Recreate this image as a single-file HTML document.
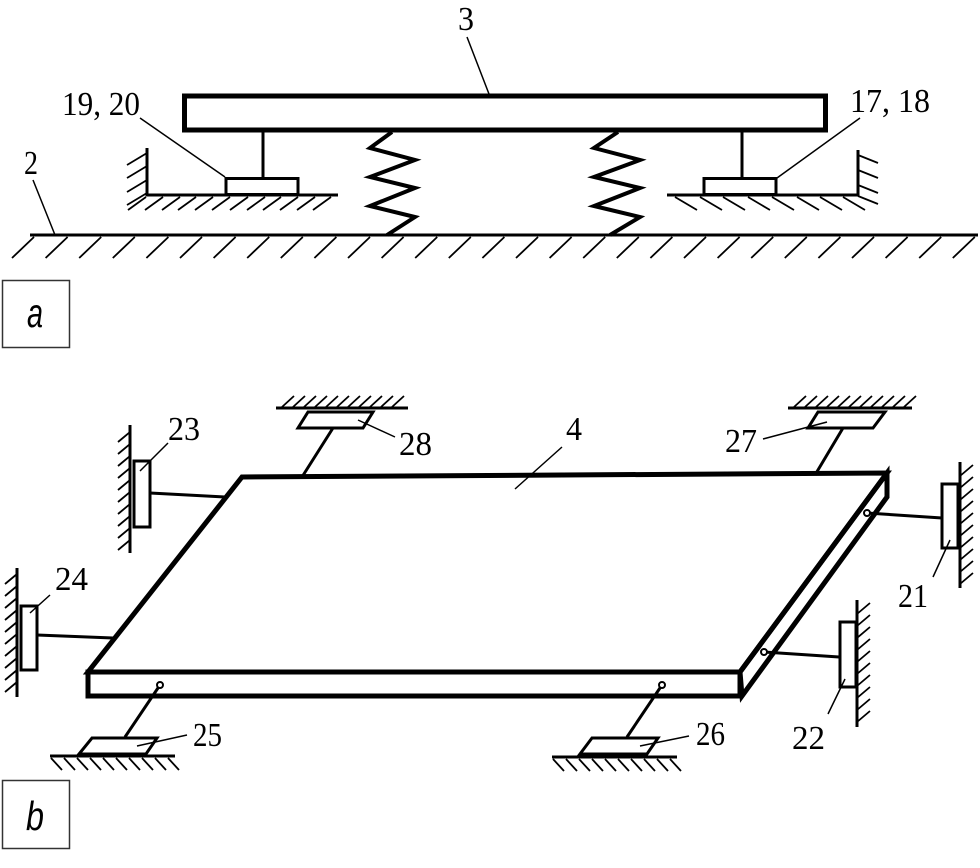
<!DOCTYPE html>
<html>
<head>
<meta charset="utf-8">
<style>
html,body{margin:0;padding:0;background:#fff;}
svg{display:block;}
.lbl{font-family:"Liberation Serif",serif;font-size:34px;fill:#000;}
.box{font-family:"Liberation Sans",sans-serif;font-size:41px;font-style:italic;fill:#000;}
</style>
</head>
<body>
<svg width="980" height="868" viewBox="0 0 980 868" xmlns="http://www.w3.org/2000/svg">
<rect x="0" y="0" width="980" height="868" fill="#fff"/>

<!-- PART a -->
<g fill="none" stroke="#000">
<rect x="184.5" y="96" width="641" height="34" stroke-width="5"/>
<path d="M263,131V178M742,131V178" stroke-width="3"/>
<rect x="226" y="178.5" width="72" height="16" stroke-width="3"/>
<rect x="704" y="178.5" width="72" height="16" stroke-width="3"/>
<polyline points="147,148 147,195 338,195" stroke-width="3"/>
<polyline points="667,195 858,195 858,150" stroke-width="3"/>
<polyline points="392,132 370,148 415,160 370,177 415,188 370,206 415,217 387,235" stroke-width="4"/>
<polyline points="618,132 594,148 640,160 594,177 640,188 594,206 640,217 610,235" stroke-width="4"/>
<path d="M30,235H978" stroke-width="3"/>
</g>

<g fill="none" stroke="#000" stroke-width="1.8">
<path d="M147,153l-20,12M147,166l-20,12M147,180l-20,12M147,193l-20,12"/>
<path d="M146,197l-18,13M163,197l-18,13M180,197l-18,13M196,197l-18,13M213,197l-18,13M230,197l-18,13M248,197l-18,13M265,197l-18,13M281,197l-18,13M298,197l-18,13M315,197l-18,13M331,197l-18,13"/>
<path d="M675,197l22,13M700,197l22,13M723,197l22,13M748,197l22,13M772,197l22,13M797,197l22,13M820,197l22,13M843,197l22,13"/>
<path d="M858,155l20,8M858,170l20,8M858,185l20,8M858,196l20,8"/>
<path d="M34,237l-22,21M67.6,237l-22,21M101.2,237l-22,21M134.8,237l-22,21M168.4,237l-22,21M202,237l-22,21M235.6,237l-22,21M269.2,237l-22,21M302.8,237l-22,21M336.4,237l-22,21M370,237l-22,21M403.6,237l-22,21M437.2,237l-22,21M470.8,237l-22,21M504.4,237l-22,21M538,237l-22,21M571.6,237l-22,21M605.2,237l-22,21M638.8,237l-22,21M672.4,237l-22,21M706,237l-22,21M739.6,237l-22,21M773.2,237l-22,21M806.8,237l-22,21M840.4,237l-22,21M874,237l-22,21M907.6,237l-22,21M941.2,237l-22,21M974.8,237l-22,21"/>
</g>

<path d="M467,37L489,94M140,118L225,177M860,118L777,178M33,180L55,235" stroke="#000" stroke-width="1.5" fill="none"/>

<text class="lbl" x="458" y="30" textLength="16" lengthAdjust="spacingAndGlyphs">3</text>
<text class="lbl" x="62" y="115" textLength="78" lengthAdjust="spacingAndGlyphs">19, 20</text>
<text class="lbl" x="850" y="112" textLength="80" lengthAdjust="spacingAndGlyphs">17, 18</text>
<text class="lbl" x="24" y="174" textLength="14" lengthAdjust="spacingAndGlyphs">2</text>

<rect x="2.5" y="280.5" width="67" height="67" fill="none" stroke="#333" stroke-width="1.5"/>
<text class="box" x="27" y="327" textLength="16" lengthAdjust="spacingAndGlyphs">a</text>

<!-- PART b -->
<g fill="none" stroke="#000" stroke-width="5">
<polygon points="242,477 887,473 740,672 88,672"/>
<polygon points="88,672 740,672 740,696 88,696"/>
<polygon points="740,672 887,473 887,497 742,696"/>
</g>

<path d="M150,493L225,497M37,635L113,638M867,513L942,518M764,652L839,657M160,685L125,737M662,685L627,737M302,477L333,428M815,475L843,428" stroke="#000" stroke-width="3" fill="none"/>

<g fill="#fff" stroke="#000" stroke-width="2">
<circle cx="160" cy="685" r="3"/>
<circle cx="662" cy="685" r="3"/>
<circle cx="867" cy="513" r="3"/>
<circle cx="764" cy="652" r="3"/>
</g>

<g fill="#fff" stroke="#000" stroke-width="3">
<rect x="134" y="461" width="16" height="66"/>
<rect x="21" y="606" width="16" height="64"/>
<rect x="942" y="484" width="16" height="64"/>
<rect x="840" y="622" width="16" height="65"/>
<polygon points="92,738 157,738 146,754 79,754"/>
<polygon points="592,738 658,738 647,754 580,754"/>
<polygon points="308,412 373,412 363,428 298,428"/>
<polygon points="818,412 885,412 873,428 808,428"/>
</g>

<path d="M130,425V553M17,568V697M960,462V588M857,600V727M50,756H175M552,757H677M276,408H408M788,408H912" stroke="#000" stroke-width="3" fill="none"/>

<g fill="none" stroke="#000" stroke-width="1.8">
<path d="M130,432l-12,10M130,444l-12,10M130,456l-12,10M130,468l-12,10M130,480l-12,10M130,492l-12,10M130,504l-12,10M130,516l-12,10M130,528l-12,10M130,540l-12,10"/>
<path d="M17,574l-12,10M17,586l-12,10M17,598l-12,10M17,610l-12,10M17,622l-12,10M17,634l-12,10M17,646l-12,10M17,658l-12,10M17,670l-12,10M17,682l-12,10"/>
<path d="M960,476l13,-11M960,488l13,-11M960,500l13,-11M960,512l13,-11M960,524l13,-11M960,536l13,-11M960,548l13,-11M960,560l13,-11M960,572l13,-11M960,584l13,-11"/>
<path d="M857,614l13,-11M857,626l13,-11M857,638l13,-11M857,650l13,-11M857,662l13,-11M857,674l13,-11M857,686l13,-11M857,698l13,-11M857,710l13,-11M857,722l13,-11"/>
<path d="M282,407l12,-11M293,407l12,-11M304,407l12,-11M315,407l12,-11M326,407l12,-11M337,407l12,-11M348,407l12,-11M359,407l12,-11M370,407l12,-11M381,407l12,-11M392,407l12,-11"/>
<path d="M794,407l12,-11M805,407l12,-11M816,407l12,-11M827,407l12,-11M838,407l12,-11M849,407l12,-11M860,407l12,-11M871,407l12,-11M882,407l12,-11M893,407l12,-11M904,407l12,-11"/>
<path d="M51,758l11,12M64,758l11,12M77,758l11,12M90,758l11,12M103,758l11,12M116,758l11,12M129,758l11,12M142,758l11,12M155,758l11,12M168,758l11,12"/>
<path d="M553,759l11,12M566,759l11,12M579,759l11,12M592,759l11,12M605,759l11,12M618,759l11,12M631,759l11,12M644,759l11,12M657,759l11,12M670,759l11,12"/>
</g>

<path d="M168,443L140,471M395,437L358,420M562,447L515,489M763,439L827,422M50,595L30,613M933,577L950,540M828,714L845,679M187,735L137,746M689,736L640,746" stroke="#000" stroke-width="1.5" fill="none"/>

<text class="lbl" x="168" y="440" textLength="32" lengthAdjust="spacingAndGlyphs">23</text>
<text class="lbl" x="399" y="455" textLength="33" lengthAdjust="spacingAndGlyphs">28</text>
<text class="lbl" x="566" y="440" textLength="16" lengthAdjust="spacingAndGlyphs">4</text>
<text class="lbl" x="725" y="452" textLength="32" lengthAdjust="spacingAndGlyphs">27</text>
<text class="lbl" x="55" y="590" textLength="33" lengthAdjust="spacingAndGlyphs">24</text>
<text class="lbl" x="898" y="607" textLength="30" lengthAdjust="spacingAndGlyphs">21</text>
<text class="lbl" x="193" y="746" textLength="29" lengthAdjust="spacingAndGlyphs">25</text>
<text class="lbl" x="696" y="745" textLength="29" lengthAdjust="spacingAndGlyphs">26</text>
<text class="lbl" x="792" y="749" textLength="33" lengthAdjust="spacingAndGlyphs">22</text>

<rect x="2.5" y="780.5" width="67" height="68" fill="none" stroke="#333" stroke-width="1.5"/>
<text class="box" x="26" y="830" textLength="18" lengthAdjust="spacingAndGlyphs">b</text>
</svg>
</body>
</html>
